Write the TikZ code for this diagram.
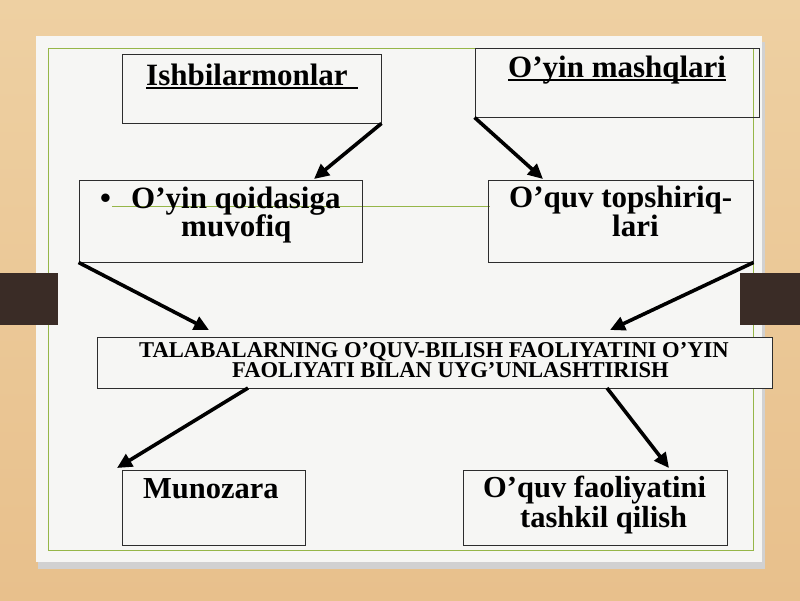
\documentclass[tikz,border=0pt]{standalone}
\usepackage{fontspec}
\setmainfont{Liberation Serif}
\usetikzlibrary{arrows.meta}
\definecolor{wood}{RGB}{232,192,140}
\definecolor{woodtop}{RGB}{238,208,162}
\definecolor{panel}{RGB}{246,246,244}
\definecolor{tabc}{RGB}{58,44,38}
\definecolor{olivec}{RGB}{150,182,72}
\definecolor{boxline}{RGB}{45,45,45}
\begin{document}
\begin{tikzpicture}[x=1pt,y=-1pt,
  box/.style={draw=boxline, line width=0.9pt, rectangle, inner sep=0pt},
  txt/.style={anchor=base west, inner sep=0pt, font=\bfseries\fontsize{31}{31}\selectfont},
  ctxt/.style={anchor=base west, inner sep=0pt, font=\bfseries\fontsize{22.6}{22}\selectfont},
  btxt/.style={anchor=base west, inner sep=0pt, font=\bfseries\fontsize{30.5}{30}\selectfont},
  conn/.style={line width=3.6pt, -{Triangle[length=15pt,width=14pt]}},
  uline/.style={line width=1.6pt}]
\useasboundingbox (0,0) rectangle (800,600);
% background
\shade[top color=woodtop, bottom color=wood] (0,0) rectangle (800,600);
\fill[black!18] (38,42) rectangle (765,569);
\fill[panel] (36,36) rectangle (762,562);
\draw[olivec, line width=0.9pt] (48,48) rectangle (753,550);
\fill[tabc] (0,273) rectangle (58,325);
\fill[tabc] (740,273) rectangle (800,325);
\draw[olivec, line width=0.9pt] (112,206) -- (490,206);
% boxes
\node[box, minimum width=259pt, minimum height=69pt] (b1) at (251.5,88.5) {};
\node[box, minimum width=284pt, minimum height=69pt] (b2) at (617,82.5) {};
\node[box, minimum width=283pt, minimum height=82pt] (b3) at (220.5,221) {};
\node[box, minimum width=265pt, minimum height=82pt] (b4) at (620.5,221) {};
\node[box, fill=panel, minimum width=675pt, minimum height=51pt] (b5) at (434.5,362.5) {};
\node[box, minimum width=183pt, minimum height=75pt] (b6) at (213.5,507.5) {};
\node[box, minimum width=264pt, minimum height=75pt] (b7) at (595,507.5) {};
% texts
\node[txt] (l1) at (146,85) {Ishbilarmonlar};
\draw[uline] ([yshift=-3pt]l1.base west) -- ([xshift=10pt,yshift=-3pt]l1.base east);
\node[txt] (l2) at (508,77) {O’yin mashqlari};
\draw[uline] ([yshift=-3pt]l2.base west) -- ([yshift=-3pt]l2.base east);
\node[txt] (bul) at (100,208) {•};
\node[txt] (l3a) at (131,208) {O’yin qoidasiga};
\node[txt] (l3b) at (181,236) {muvofiq};
\node[txt] (l4a) at (509,207) {O’quv topshiriq-};
\node[txt] (l4b) at (612,236) {lari};
\node[ctxt] (l5a) at (139,357) {TALABALARNING O’QUV-BILISH FAOLIYATINI O’YIN};
\node[ctxt] (l5b) at (232,377) {FAOLIYATI BILAN UYG’UNLASHTIRISH};
\node[btxt] (l6) at (143,498) {Munozara};
\node[btxt] (l7a) at (483,497) {O’quv faoliyatini};
\node[btxt] (l7b) at (520,527) {tashkil qilish};
% connectors
\coordinate (t1) at (314,179);
\coordinate (t2) at (543,179);
\coordinate (t3) at (209,330);
\coordinate (t4) at (610,330);
\coordinate (s5) at (248,388);
\coordinate (s6) at (607,388);
\coordinate (t5) at (117,468);
\coordinate (t6) at (669,468);
\draw[conn] (b1.south east) -- (t1);
\draw[conn] (b2.south west) -- (t2);
\draw[conn] (b3.south west) -- (t3);
\draw[conn] (b4.south east) -- (t4);
\draw[conn] (s5) -- (t5);
\draw[conn] (s6) -- (t6);
\end{tikzpicture}
\end{document}
